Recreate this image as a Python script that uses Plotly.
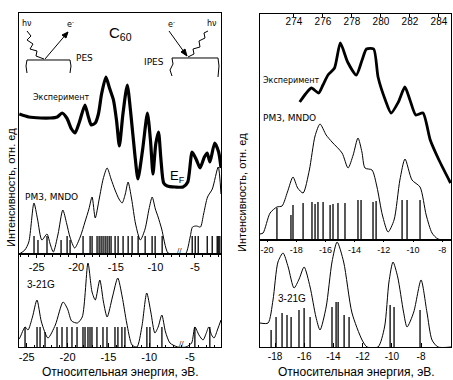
import plotly.graph_objects as go

# ---------------- DATA ----------------
# Left panel, upper: experiment (PES/IPES) and PM3/MNDO DOS, energy in eV
exp_l_x = [-27.2, -26.0, -24.5, -23.3, -22.4, -21.8, -21.2, -20.6, -20.15, -19.6, -18.9, -18.5, -18.1, -17.6,
           -17.2, -16.8, -16.25, -15.8, -15.3, -14.9, -14.55, -14.1, -13.55, -13.1, -12.6, -12.2, -11.6,
           -11.0, -10.6, -10.3, -9.95, -9.6, -9.3, -8.95, -8.5, -7.5, -6.5, -5.9, -5.35, -4.8, -4.35,
           -3.8, -3.45, -3.1, -2.5, -2.0, -1.7]
exp_l_y = [140, 137, 136, 136, 137, 141, 136, 125, 121, 132, 149, 138, 129, 131,
           140, 160, 177, 166, 154, 133, 108, 140, 169, 140, 100, 75, 105,
           141, 112, 80, 110, 122, 95, 71, 68, 67, 67, 72, 102, 94, 86,
           97, 101, 92, 111, 102, 86]

pm3_l_x = [-27.2, -26.5, -26.0, -25.35, -24.9, -24.35, -23.7, -23.3, -22.9, -22.3, -21.7, -21.2, -20.8,
           -20.2, -19.5, -18.9, -18.4, -18.0, -17.6, -17.1, -16.6, -16.1, -15.6, -15.1, -14.6, -14.2,
           -13.8, -13.45, -13.0, -12.5, -11.9, -11.3, -10.8, -10.4, -10.0, -9.65, -9.2, -8.4, -7.5,
           -6.2, -5.6, -5.3, -4.8, -4.3, -3.9, -3.4, -2.8, -2.05, -1.7]
pm3_l_y = [0, 4, 12, 51, 35, 14, 20, 10, 2, 20, 44, 30, 17,
           6, 17, 32, 45, 57, 36, 55, 75, 86, 75, 64, 55, 51,
           60, 72, 55, 30, 14, 25, 45, 57, 45, 37, 25, 1, 0,
           0, 17, 27, 28, 27, 40, 57, 65, 87, 60]

pm3_l_lev = [-25.34, -24.84, -23.70, -21.92, -21.16, -20.78, -19.14, -18.25, -18.00, -17.37, -17.11,
             -16.86, -16.61, -16.35, -16.10, -15.84, -15.60, -15.09, -14.71, -14.08, -13.44, -12.94,
             -12.18, -11.29, -10.41, -10.03, -9.14, -5.34, -4.96, -4.58, -3.44, -2.81, -2.18, -2.05, -1.85]
pm3_l_h = [18, 14, 18, 14, 18, 14, 18, 18, 18, 18, 18,
           18, 18, 18, 18, 18, 18, 18, 18, 18, 18, 18,
           18, 18, 18, 18, 18, 18, 18, 18, 18, 18, 18, 18, 18]

# Left panel, lower: 3-21G
g_l_x = [-25.95, -25.8, -25.2, -24.85, -24.3, -23.75, -23.2, -22.4, -21.5, -20.55, -20.0, -19.5, -18.8,
         -18.2, -17.5, -17.0, -16.6, -16.05, -15.6, -15.15, -14.5, -13.85, -13.3, -12.75, -12.1, -11.5,
         -10.9, -10.3, -9.8, -9.3, -8.9, -8.45, -8.0, -7.45, -6.5, -5.5, -4.8, -4.4, -3.9, -3.4, -3.0,
         -2.7, -2.35, -2.05, -1.6, -1.2]
g_l_y = [8, 10, 20, 17, 30, 47, 25, 9, 22, 45, 38, 26, 24,
         30, 84, 55, 47, 67, 45, 30, 50, 69, 50, 24, 2, 0,
         20, 54, 35, 14, 20, 32, 15, 4, 0, 0, 4, 20, 12, 7, 14,
         20, 12, 9, 18, 27]
g_l_lev = [-25.21, -23.74, -23.37, -22.76, -21.29, -20.68, -20.07, -19.46, -18.84, -18.11, -17.86,
           -17.50, -17.25, -17.01, -16.40, -15.66, -15.17, -14.19, -13.83, -13.34, -12.97, -10.28,
           -9.91, -8.44, -4.40, -2.57]
g_l_h = [20, 20, 20, 15, 20, 20, 20, 20, 20, 20, 20,
         20, 20, 20, 20, 20, 20, 20, 20, 20, 20, 20,
         20, 20, 20, 20]

# Right panel, upper: experiment vs photon energy (eV)
exp_r_x = [274.4, 274.8, 275.2, 275.7, 276.0, 276.35, 276.8, 277.2, 277.7, 278.3, 278.7, 279.0, 279.5,
           279.8, 280.3, 280.7, 281.2, 281.65, 282.0, 282.4, 282.9, 283.4, 284.0, 284.8]
exp_r_y = [138, 146, 152, 147, 155, 165, 172, 197, 178, 165, 180, 191, 191,
           163, 140, 127, 138, 153, 140, 125, 127, 100, 80, 57]

pm3_r_x = [-20.48, -20.27, -19.79, -19.32, -18.97, -18.6, -18.22, -17.9, -17.53, -17.1, -16.71, -16.37,
           -15.95, -15.55, -14.86, -14.45, -14.1, -13.77, -13.5, -13.29, -12.81, -12.47, -12.1, -11.71,
           -11.3, -10.9, -10.55, -10.07, -9.52, -9.1, -8.70, -8.29, -7.4]
pm3_r_y = [6, 7, 27, 33, 34, 48, 63, 52, 47, 70, 104, 116,
           105, 98, 87, 72, 85, 102, 88, 72, 70, 53, 25, 8,
           20, 60, 81, 60, 53, 25, 7, 1, 0]
pm3_r_lev = [-19.32, -18.36, -18.22, -17.53, -16.92, -16.71, -16.51, -16.16, -15.68, -15.48, -15.14,
             -14.66, -13.77, -13.56, -12.74, -12.53, -10.75, -10.41, -9.52]
pm3_r_h = [32, 25, 35, 37, 38, 36, 38, 38, 35, 36, 37,
           37, 40, 40, 38, 39, 40, 40, 40]

# Right panel, lower: 3-21G
g_r_x = [-19.03, -18.48, -18.14, -17.8, -17.45, -17.1, -16.70, -16.35, -16.01, -15.6, -15.2, -14.92,
         -14.5, -14.1, -13.75, -13.3, -12.73, -12.04, -11.70, -10.95, -10.5, -10.2, -9.92, -9.6, -9.2,
         -8.96, -8.5, -8.0, -7.6, -7.25, -6.84, -5.95]
g_r_y = [24, 24, 47, 85, 94, 80, 59, 68, 80, 60, 30, 17,
         40, 85, 105, 85, 34, 7, 0, 0, 20, 65, 85, 70, 35,
         20, 35, 67, 35, 7, 0, 0]
g_r_lev = [-18.27, -17.93, -17.52, -17.18, -16.90, -16.36, -16.01, -15.60, -14.10, -13.82, -13.68,
           -13.27, -12.93, -10.12, -9.85, -8.07]
g_r_h = [17, 30, 34, 32, 30, 37, 39, 30, 40, 45, 45,
         32, 30, 42, 40, 37]

# Tick labels
tick_l = [-25, -20, -15, -10, -5]
tick_r_mid = [-20, -18, -16, -14, -12, -10, -8]
tick_r_bot = [-18, -16, -14, -12, -10, -8]
tick_r_top = [274, 276, 278, 280, 282, 284]

# ---------------- FIGURE ----------------
W, H = 453, 380
def px(x):
    return x / W
def py(y):
    return 1 - y / H

def sticks(xs, hs):
    sx, sy = [], []
    for x, h in zip(xs, hs):
        sx += [x, x, None]
        sy += [0, h, None]
    return sx, sy

fig = go.Figure()

fig.add_trace(go.Scatter(x=exp_l_x, y=exp_l_y, mode="lines", line=dict(color="black", width=3.2, shape="spline", smoothing=0.6), xaxis="x", yaxis="y"))
fig.add_trace(go.Scatter(x=pm3_l_x, y=pm3_l_y, mode="lines", line=dict(color="black", width=1, shape="spline", smoothing=0.7), xaxis="x", yaxis="y"))
sx, sy = sticks(pm3_l_lev, pm3_l_h)
fig.add_trace(go.Scatter(x=sx, y=sy, mode="lines", line=dict(color="black", width=1.3), xaxis="x", yaxis="y"))

fig.add_trace(go.Scatter(x=g_l_x, y=g_l_y, mode="lines", line=dict(color="black", width=1, shape="spline", smoothing=0.7), xaxis="x2", yaxis="y2"))
sx, sy = sticks(g_l_lev, g_l_h)
fig.add_trace(go.Scatter(x=sx, y=sy, mode="lines", line=dict(color="black", width=1.3), xaxis="x2", yaxis="y2"))

fig.add_trace(go.Scatter(x=exp_r_x, y=exp_r_y, mode="lines", line=dict(color="black", width=2.8, shape="spline", smoothing=0.6), xaxis="x4", yaxis="y3"))
fig.add_trace(go.Scatter(x=pm3_r_x, y=pm3_r_y, mode="lines", line=dict(color="black", width=1, shape="spline", smoothing=0.7), xaxis="x3", yaxis="y3"))
sx, sy = sticks(pm3_r_lev, pm3_r_h)
fig.add_trace(go.Scatter(x=sx, y=sy, mode="lines", line=dict(color="black", width=1.3), xaxis="x3", yaxis="y3"))

fig.add_trace(go.Scatter(x=g_r_x, y=g_r_y, mode="lines", line=dict(color="black", width=1, shape="spline", smoothing=0.7), xaxis="x5", yaxis="y5"))
sx, sy = sticks(g_r_lev, g_r_h)
fig.add_trace(go.Scatter(x=sx, y=sy, mode="lines", line=dict(color="black", width=1.3), xaxis="x5", yaxis="y5"))

tickfont = dict(family="Liberation Sans Narrow, Liberation Sans, Arial", size=11, color="black")
base_x = dict(showline=True, linecolor="black", linewidth=1, showgrid=False, zeroline=False,
              tickfont=tickfont, tickcolor="black", automargin=False)
base_y = dict(showline=True, linecolor="black", linewidth=1, showgrid=False, zeroline=False,
              showticklabels=False, ticks="", mirror=True, automargin=False)

LX = [px(19), px(221)]
RX = [px(260), px(451)]

fig.update_layout(
    width=W, height=H, margin=dict(l=0, r=0, t=0, b=0, autoexpand=False),
    paper_bgcolor="white", plot_bgcolor="rgba(0,0,0,0)", showlegend=False,
    xaxis=dict(base_x, domain=LX, anchor="y", range=[-27.24, -1.7], tickvals=tick_l,
               ticktext=[str(v) for v in tick_l], ticks="outside", ticklen=3, mirror=True,
               minor=dict(dtick=1, ticks="outside", ticklen=2, tickcolor="black")),
    yaxis=dict(base_y, domain=[py(254), py(13)], anchor="x", range=[0, 241]),
    xaxis2=dict(base_x, domain=LX, anchor="y2", range=[-25.95, -1.2], tickvals=tick_l,
                ticktext=[str(v) for v in tick_l], ticks="inside", ticklen=4, mirror=True,
                minor=dict(dtick=1, ticks="inside", ticklen=2, tickcolor="black")),
    yaxis2=dict(base_y, domain=[py(347), py(254)], anchor="x2", range=[0, 93]),
    xaxis3=dict(base_x, domain=RX, anchor="y3", range=[-20.48, -7.40], tickvals=tick_r_mid,
                ticktext=[str(v) for v in tick_r_mid], ticks="outside", ticklen=1,
                tickfont=dict(tickfont, size=9)),
    xaxis4=dict(base_x, domain=RX, anchor="y3", overlaying="x3", side="top", range=[271.66, 284.83],
                tickvals=tick_r_top, ticktext=[str(v) for v in tick_r_top], ticks="inside", ticklen=3,
                ticklabelposition="inside", tickfont=dict(tickfont, size=10)),
    yaxis3=dict(base_y, domain=[py(240), py(14)], anchor="x3", range=[0, 226]),
    xaxis5=dict(base_x, domain=RX, anchor="y5", range=[-19.03, -5.95], tickvals=tick_r_bot,
                ticktext=[str(v) for v in tick_r_bot], ticks="inside", ticklen=4, mirror=True,
                tickfont=dict(tickfont, size=10)),
    yaxis5=dict(base_y, domain=[py(347), py(240)], anchor="x5", range=[0, 107]),
)

lab = dict(family="Liberation Sans, Arial", size=12, color="black")
small = dict(family="DejaVu Sans, Arial", size=8, color="black")
mid = dict(family="Liberation Sans, Arial", size=10, color="black")

def note(x, y, text, font, **kw):
    fig.add_annotation(x=px(x), y=py(y), xref="paper", yref="paper", text=text, showarrow=False,
                       xanchor="center", yanchor="middle", font=font, **kw)

note(120, 372, "Относительная энергия, эВ.", lab)
note(356, 372, "Относительная энергия, эВ.", lab)
note(11, 188, "Интенсивность, отн. ед", dict(lab, size=11), textangle=-90)
note(242, 192, "Интенсивность, отн. ед", dict(lab, size=11), textangle=-90)

note(61, 97, "Эксперимент", small)
note(291, 80, "Эксперимент", small)
note(51, 197, "PM3, MNDO", dict(small, size=9))
note(289, 118, "PM3, MNDO", dict(small, size=9))
note(41, 284, "3-21G", mid)
note(292, 298, "3-21G", mid)
note(177, 176, "E<sub>F</sub>", dict(lab, size=13))
note(120, 33, "C<sub>60</sub>", dict(lab, size=15))
note(84, 58, "PES", dict(small, size=9))
note(154, 62, "IPES", dict(small, size=9))
note(27, 24, "hν", dict(small, size=8))
note(70, 24, "e<sup>-</sup>", dict(small, size=8))
note(171, 24, "e<sup>-</sup>", dict(small, size=8))
note(212, 24, "hν", dict(small, size=8))
note(179, 251, "//", dict(small, size=7))
note(181, 344, "//", dict(small, size=7))

# schematic decorations (paper coordinates)
def path(points, fill=None):
    d = "M " + " L ".join(f"{px(a):.5f},{py(b):.5f}" for a, b in points)
    if fill:
        d += " Z"
    fig.add_shape(type="path", path=d, xref="paper", yref="paper", line=dict(color="black", width=1),
                  fillcolor=fill if fill else "rgba(0,0,0,0)")

path([(27, 73), (26, 66), (27, 60), (70, 60), (71, 66), (70, 73)])
path([(27, 31), (31, 36), (27, 40), (33, 44), (30, 49), (37, 51), (36, 56), (44, 59)])
path([(172, 76), (170, 70), (173, 64), (172, 58), (218, 58), (219, 66), (218, 77)])
path([(188, 57), (194, 54), (193, 49), (200, 47), (199, 41), (205, 38), (204, 33), (208, 31)])
# straight electron arrows with heads
path([(45, 59), (68, 32)])
path([(68, 32), (62, 35), (66, 38)], fill="black")
path([(169, 31), (187, 56)])
path([(187, 56), (181, 52), (185, 49)], fill="black")

fig.write_html("out.html", config={"displayModeBar": False},
               post_script="document.body.style.margin='0px';")
